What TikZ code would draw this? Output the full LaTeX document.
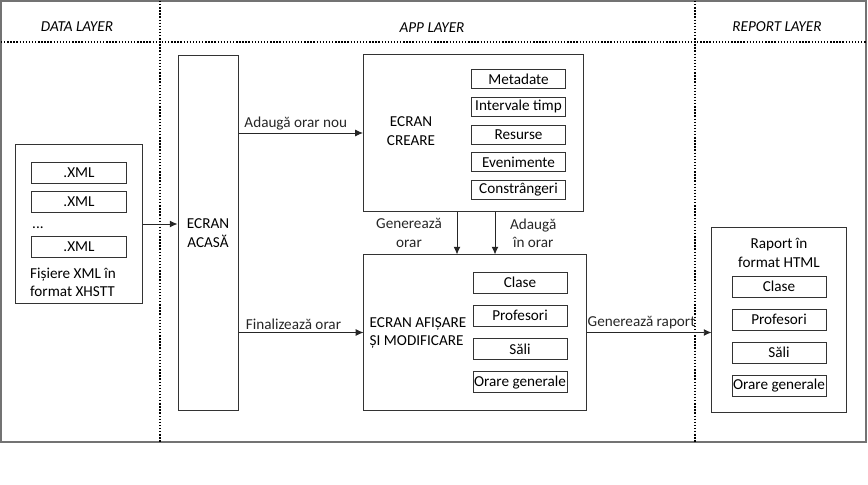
\documentclass[tikz,border=0pt]{standalone}
\usepackage{fontspec}
\setmainfont{Carlito}
\usetikzlibrary{positioning,arrows.meta}

\begin{document}
\begin{tikzpicture}[x=0.025cm, y=-0.025cm,
        font=\fontsize{10.8}{13}\selectfont,
        box/.style={draw=black!80, line width=0.7pt, inner sep=0pt},
        sub/.style={box, minimum width=2.35cm, minimum height=0.5cm},
        arr/.style={-{Latex[length=5.5pt, width=5pt]}, black!85, line width=0.7pt},
        sep/.style={line width=1.1pt, dash pattern=on 1pt off 1.2pt},
        layer/.style={font=\fontsize{10.8}{13}\selectfont\itshape}]
                \useasboundingbox (0,0) rectangle (868,485);
                \draw[black!55, line width=1.4pt] (1,1) rectangle (866,442);
                \draw[sep] (1,42) -- (866,42);
                \foreach \x in {160,695} \draw[sep] (\x,1) -- (\x,442);

                \node[layer] (tdata) at (77,27) {DATA LAYER};
                \node[layer] (tapp) at (432,28) {APP LAYER};
                \node[layer] (treport) at (777,27) {REPORT LAYER};

                \node[box, minimum width=3.15cm, minimum height=3.95cm] (data) at (79,224) {};
                \foreach \y [count=\i] in {173,202,247}
                        \node[sub, minimum height=0.525cm] (xml\i) at (79,\y) {.XML};
                \node (dots) at (38,228) {...};
                \node[align=left] (datalbl) at (73,282) {Fișiere XML în\\format XHSTT};

                \node[box, minimum width=1.5cm, minimum height=8.85cm, align=center] (acasa) at (208,233) {ECRAN\\ACASĂ};

                \node[box, minimum width=5.5cm, minimum height=3.9cm] (creare) at (473.5,133) {};
                \node[align=center] (crearelbl) at (411,131) {ECRAN\\CREARE};
                \foreach \t [count=\i] in {Metadate, Intervale timp, Resurse, Evenimente, Constrângeri}
                        \node[sub, minimum height=0.475cm] (c\i) at (518.5,{79+27.75*(\i-1)}) {\t};

                \node[box, minimum width=5.55cm, minimum height=3.875cm] (afisare) at (475,332.5) {};
                \node[align=left] (afisarelbl) at (418,333) {ECRAN AFIȘARE\\ȘI MODIFICARE};
                \foreach \t [count=\i] in {Clase, Profesori, Săli, Orare generale}
                        \node[sub, minimum height=0.525cm] (a\i) at (520,{282.5+33.3*(\i-1)}) {\t};

                \node[box, minimum width=3.35cm, minimum height=4.6cm] (raport) at (779,320) {};
                \node[align=center] (raportlbl) at (779,253) {Raport în\\format HTML};
                \foreach \t [count=\i] in {Clase, Profesori, Săli, Orare generale}
                        \node[sub, minimum height=0.525cm] (r\i) at (779,{286.5+33*(\i-1)}) {\t};

                \draw[arr] (data.east) -- (data.east -| acasa.west);
                \draw[arr] (creare.west -| acasa.east) -- (creare.west)
                        node[pos=0.46, above, inner sep=2pt] (lnou) {Adaugă orar nou};
                \draw[arr] (afisare.west -| acasa.east) -- (afisare.west)
                        node[pos=0.44, above, inner sep=2pt] (lfin) {Finalizează orar};
                \draw[arr] (afisare.east) -- (afisare.east -| raport.west)
                        node[pos=0.44, above, inner sep=2pt] (lrap) {Generează raport};

                \coordinate (g1) at (457,0);
                \coordinate (g2) at (495,0);
                \draw[arr] (g1 |- creare.south) -- (g1 |- afisare.north)
                        node[midway, left=0.25cm, align=center] (lgen) {Generează\\orar};
                \draw[arr] (g2 |- creare.south) -- (g2 |- afisare.north)
                        node[midway, right=0.25cm, align=center] (lad) {Adaugă\\în orar};
            \end{tikzpicture}
\end{document}
